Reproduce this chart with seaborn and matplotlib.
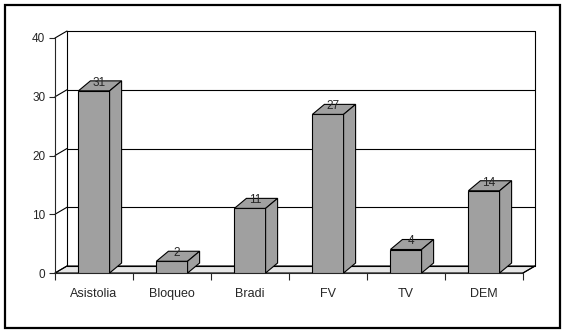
import matplotlib
matplotlib.use("Agg")
import matplotlib.pyplot as plt
import seaborn as sns
import pandas as pd
from matplotlib.patches import Polygon, Rectangle

# datos del grafico
categorias = ["Asistolia", "Bloqueo", "Bradi", "FV", "TV", "DEM"]
valores = [31, 2, 11, 27, 4, 14]
ticks_y = [0, 10, 20, 30, 40]

df = pd.DataFrame({"cat": categorias, "n": valores})

sns.set_style("white")
plt.rcParams["font.family"] = ["Liberation Sans", "DejaVu Sans"]

W, H = 566, 335
fig = plt.figure(figsize=(W / 100, H / 100), dpi=100)
# ejes: x 55..523 px, y 38..273 px (desde arriba)
ax = fig.add_axes([55 / W, (H - 273) / H, (523 - 55) / W, (273 - 38) / H])

gris = "#a0a0a0"
sns.barplot(data=df, x="cat", y="n", color=gris, width=0.4, saturation=1,
            edgecolor="black", linewidth=0.8, ax=ax, zorder=3)

ax.set_xlim(-0.5, len(categorias) - 0.5)
ax.set_ylim(0, 40)

# desplazamientos de profundidad (px -> datos)
px_x = (len(categorias)) / (523 - 55)
px_y = 40 / (273 - 38)
dxw, dyw = 12 * px_x, 7 * px_y   # pared del fondo
dxb, dyb = 12 * px_x, 10 * px_y  # barras

x0, x1 = -0.5, len(categorias) - 0.5
lw = 0.8

# suelo
ax.add_patch(Polygon([(x0, 0), (x1, 0), (x1 + dxw, dyw), (x0 + dxw, dyw)],
                     closed=True, facecolor="#e6e6e6", edgecolor="black",
                     lw=lw, clip_on=False, zorder=1))
# lineas de la pared del fondo
for v in ticks_y:
    ax.plot([x0 + dxw, x1 + dxw], [v + dyw, v + dyw], color="black", lw=lw,
            clip_on=False, zorder=1.5)
    ax.plot([x0, x0 + dxw], [v, v + dyw], color="black", lw=lw,
            clip_on=False, zorder=1.5)
ax.plot([x0 + dxw, x0 + dxw], [dyw, 40 + dyw], color="black", lw=lw,
        clip_on=False, zorder=1.5)
ax.plot([x1 + dxw, x1 + dxw], [dyw, 40 + dyw], color="black", lw=lw,
        clip_on=False, zorder=1.5)
ax.plot([x1, x1 + dxw], [0, dyw], color="black", lw=lw, clip_on=False, zorder=1.5)

# caras 3D de las barras
for p, v in zip(ax.patches, valores):
    bx, bw, bh = p.get_x(), p.get_width(), p.get_height()
    top = [(bx, bh), (bx + bw, bh), (bx + bw + dxb, bh + dyb), (bx + dxb, bh + dyb)]
    side = [(bx + bw, 0), (bx + bw + dxb, dyb), (bx + bw + dxb, bh + dyb), (bx + bw, bh)]
    for poly in (top, side):
        ax.add_patch(Polygon(poly, closed=True, facecolor=gris, edgecolor="black",
                             lw=lw, clip_on=False, zorder=3))
    ax.text(bx + bw / 2 + 5 * px_x, bh + 8 * px_y, str(v), ha="center",
            va="center", fontsize=8.5, zorder=4)

# ejes y marcas
sns.despine(ax=ax, top=True, right=True)
for s in ("left", "bottom"):
    ax.spines[s].set_linewidth(lw)
    ax.spines[s].set_zorder(2)
ax.set_yticks(ticks_y)
ax.tick_params(axis="y", length=4, width=lw, pad=3, labelsize=8.5, direction="out",
               left=True)
ax.set_xticks(range(len(categorias)))
ax.set_xticklabels(categorias)
ax.set_xticks([i - 0.5 for i in range(len(categorias) + 1)], minor=True)
ax.tick_params(axis="x", which="major", length=0, pad=11, labelsize=9)
ax.tick_params(axis="x", which="minor", length=5, width=lw, direction="out",
               bottom=True)
ax.set_xlabel("")
ax.set_ylabel("")
ax.grid(False)

# marco exterior
fig.patches.append(Rectangle((5 / W, (H - 328) / H), 555 / W, 323 / H,
                             transform=fig.transFigure, fill=False,
                             edgecolor="black", lw=1.6))

fig.savefig("out.png", dpi=100)
